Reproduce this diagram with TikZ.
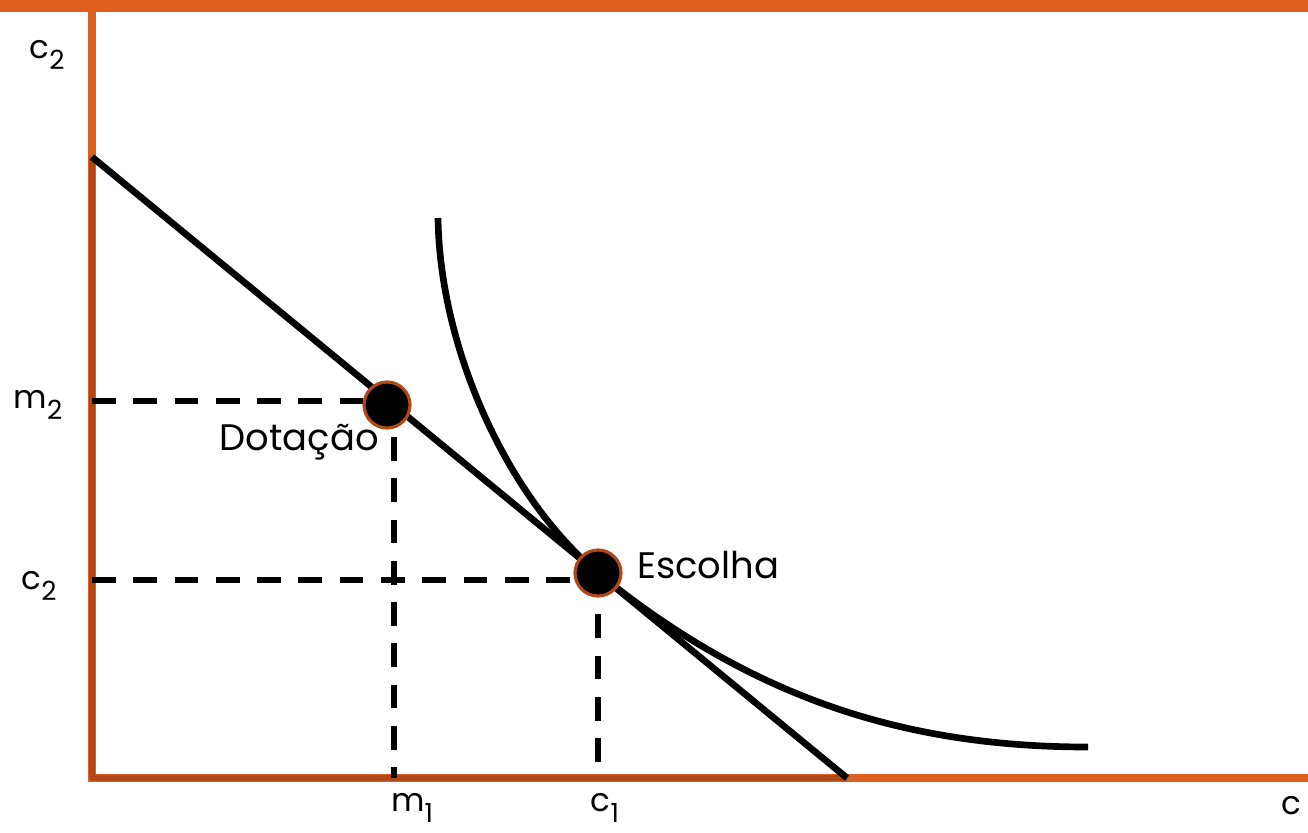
\documentclass[tikz,border=0pt]{standalone}
\usepackage{fontspec}
\setmainfont{Poppins}
\usetikzlibrary{positioning}
\definecolor{axisorange}{HTML}{DF5F1F}
\definecolor{axisbrown}{HTML}{B24818}
\newcommand{\lowsub}[1]{\raisebox{-0.6ex}{\fontsize{15}{18}\selectfont#1}}

\begin{document}
\begin{tikzpicture}[
  x=0.02cm, y=-0.02cm,
  every node/.style={font=\fontsize{18.5}{22}\selectfont, inner sep=0pt},
  axis/.style={draw=axisorange, line width=4.5pt},
  inner axis/.style={draw=axisbrown, line width=3pt, line join=round},
  budget/.style={draw=black, line width=3.8pt},
  indiff/.style={draw=black, line width=3.8pt},
  guide/.style={draw=black, line width=3pt, dash pattern=on 13.5pt off 10pt},
  dot/.style={circle, fill=black, draw=axisbrown, line width=1.8pt, minimum size=0.92cm},
  tag/.style={font=\fontsize{21}{25}\selectfont}
]
\useasboundingbox (0,0) rectangle (1308,832);
\fill[axisorange] (0,0) rectangle (1308,12);

\coordinate (origin) at (92,778);
\coordinate (ytop) at (92,12);
\coordinate (xend) at (1308,778);
\coordinate (btop) at (92,157);
\coordinate (bbot) at (847,778);
\coordinate (endowpt) at (387,405);
\coordinate (choicept) at (598,573);

\draw[axis] (ytop) -- (origin) -- (xend);
\draw[inner axis] (btop) -- (origin) -- (bbot);

\draw[guide] (origin |- 0,401) -- (endowpt |- 0,401);
\draw[guide] (394,437) -- (394,778);
\draw[guide] (origin |- 0,580) -- (choicept |- 0,580);
\draw[guide] (choicept) -- (choicept |- origin);

\draw[budget] (btop) -- (bbot);
\draw[indiff] (438,218) .. controls (440,350) and (508,498) .. (choicept)
  .. controls (748,695) and (900,747) .. (1088,747);

\node[dot] (endow) at (endowpt) {};
\node[dot] (choice) at (choicept) {};

\node[tag, anchor=north east] (endowlab) at (379,424) {Dotação};
\node[tag, anchor=west] (choicelab) at (637,565) {Escolha};

\node (ylab) at (47,55) {c\lowsub{2}};
\node (m2lab) at (38,405) {m\lowsub{2}};
\node (c2lab) at (39,586) {c\lowsub{2}};
\node (m1lab) at (412,808) {m\lowsub{1}};
\node (c1lab) at (605,808) {c\lowsub{1}};
\node[anchor=east] (xlab) at (1302,806) {c};
\end{tikzpicture}
\end{document}
